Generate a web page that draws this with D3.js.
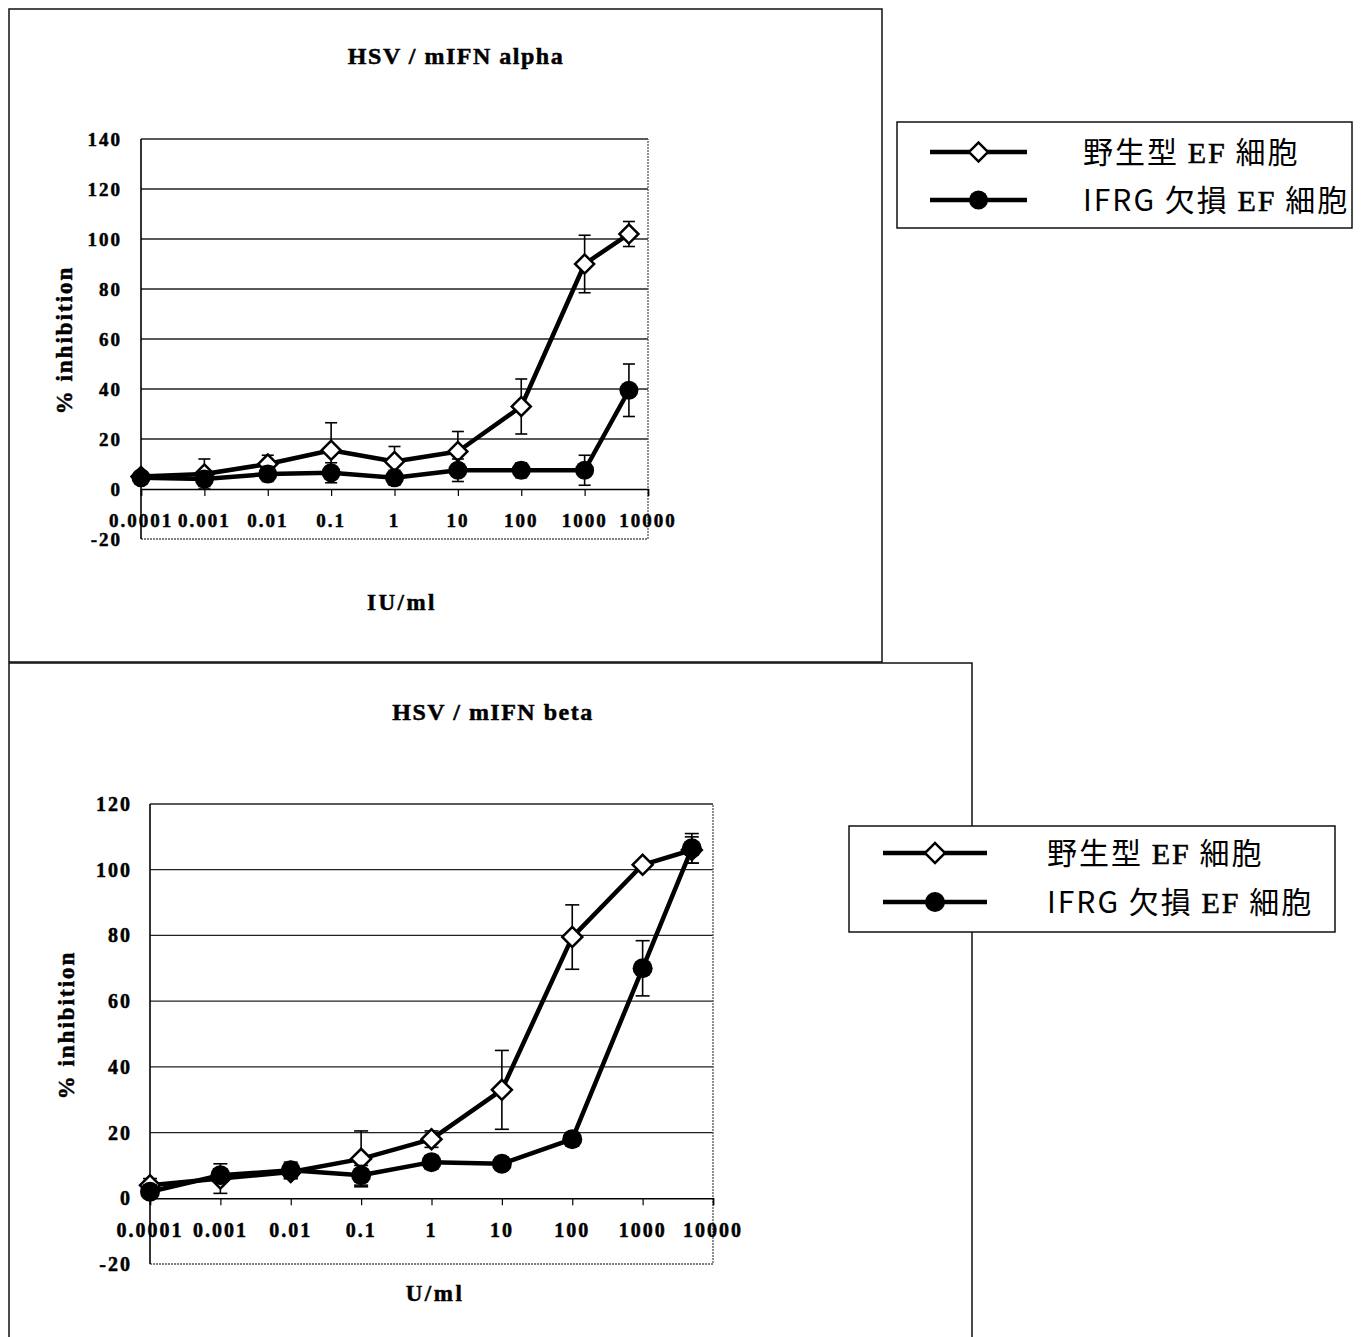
<!DOCTYPE html>
<html>
<head>
<meta charset="utf-8">
<script src="https://cdn.jsdelivr.net/npm/d3@7"></script>
<style>
  body { margin: 0; background: #fff; }
  svg text { font-family: "Liberation Serif", "Times New Roman", serif; font-weight: bold; fill: #000; stroke: #000; stroke-width: 0.5px; }
  svg text.legend { font-family: "Noto Sans CJK JP", sans-serif; font-weight: normal; stroke: none; }
  svg text.legend tspan.latin { font-family: "Liberation Serif", serif; font-weight: normal; stroke: #000; stroke-width: 0.6px; }
</style>
</head>
<body>
<svg id="chart"></svg>
<script>
// concentrations tested (same in both panels)
var concentrations = [0.0001, 0.001, 0.01, 0.1, 1, 10, 100, 1000, 5000]
var xTickValues = [0.0001, 0.001, 0.01, 0.1, 1, 10, 100, 1000, 10000]
var xTickLabels = ["0.0001", "0.001", "0.01", "0.1", "1", "10", "100", "1000", "10000"]

// HSV / mIFN alpha
var alphaWild = [5, 6, 10, 15.5, 11, 15, 33, 90, 102]
var alphaWildErr = [1, 6, 3.5, 11, 6, 8, 11, 11.5, 5]
var alphaKO = [4.5, 4, 6, 6.5, 4.5, 7.5, 7.5, 7.5, 39.5]
var alphaKOErr = [2, 3, 3, 4, 3, 4.5, 3, 6, 10.5]
var alphaYTicks = [-20, 0, 20, 40, 60, 80, 100, 120, 140]

// HSV / mIFN beta
var betaWild = [4, 6, 8, 12, 18, 33, 79.5, 101.5, 106]
var betaWildErr = [2, 4.5, 2, 8.5, 2.5, 12, 9.8, 1, 4]
var betaKO = [2, 7, 8.5, 7, 11, 10.5, 18, 70, 106.5]
var betaKOErr = [2, 2, 2.5, 3, 2, 2, 2, 8.4, 4.5]
var betaYTicks = [-20, 0, 20, 40, 60, 80, 100, 120]

// legend names, split so "EF" can be set in a latin face
var seriesNames = [
  [["野生型 ", false], ["EF", true], [" 細胞", false]],
  [["IFRG 欠損 ", false], ["EF", true], [" 細胞", false]]
]

var width = 1363
var height = 1337

var svg = d3.select("#chart").attr("width", width).attr("height", height)

function drawPanel(p) {
  var g = svg.append("g")

  // outer frame
  g.append("rect")
    .attr("x", p.frame[0]).attr("y", p.frame[1])
    .attr("width", p.frame[2]).attr("height", p.frame[3])
    .attr("fill", "none").attr("stroke", "#111").attr("stroke-width", 1.5)

  var x = d3.scaleLog().domain([0.0001, 10000]).range([p.left, p.right])
  var y = d3.scaleLinear().domain([p.yTicks[0], p.yTicks[p.yTicks.length - 1]]).range([p.bottom, p.top])

  // gridlines
  g.selectAll(".grid").data(p.yTicks.filter(t => t > p.yTicks[0] && t != 0)).enter()
    .append("line")
    .attr("x1", p.left).attr("x2", p.right)
    .attr("y1", d => y(d)).attr("y2", d => y(d))
    .attr("stroke", "#222").attr("stroke-width", 1.3)

  // plot area border (right + bottom)
  g.append("path")
    .attr("d", `M${p.left},${y(p.yTicks[0])}H${p.right}V${p.top}`)
    .attr("fill", "none").attr("stroke", "#555").attr("stroke-width", 1.3)
    .attr("stroke-dasharray", "2,1")

  // y axis line
  g.append("line")
    .attr("x1", p.left).attr("x2", p.left).attr("y1", p.top).attr("y2", p.bottom)
    .attr("stroke", "#000").attr("stroke-width", 1.6)

  // x axis at 0
  var xAxis = d3.axisBottom(x).tickValues(xTickValues).tickSize(7).tickFormat("")
  var ax = g.append("g").attr("transform", `translate(0,${y(0)})`).call(xAxis)
  ax.select(".domain").attr("stroke", "#000").attr("stroke-width", 1.6)
  ax.selectAll(".tick line").attr("stroke", "#000").attr("stroke-width", 1.2)

  g.selectAll(".xlab").data(xTickValues).enter().append("text")
    .attr("x", (d, i) => x(d))
    .attr("y", p.xLabelY)
    .attr("text-anchor", "middle")
    .attr("font-size", p.tickFont)
    .style("letter-spacing", "2px")
    .text((d, i) => xTickLabels[i])

  g.selectAll(".ylab").data(p.yTicks).enter().append("text")
    .attr("x", p.yLabelX)
    .attr("y", d => y(d) + 7)
    .attr("text-anchor", "end")
    .attr("font-size", p.tickFont)
    .style("letter-spacing", "2px")
    .text(d => d)

  // titles
  g.append("text").attr("x", p.titleX).attr("y", p.titleY)
    .attr("text-anchor", "middle").attr("font-size", 24)
    .style("letter-spacing", "1.5px").text(p.title)
  g.append("text").attr("x", p.xTitleX).attr("y", p.xTitleY)
    .attr("text-anchor", "middle").attr("font-size", 23)
    .style("letter-spacing", "2.5px").text(p.xTitle)
  g.append("text")
    .attr("transform", `translate(${p.yTitleX},${p.yTitleY}) rotate(-90)`)
    .attr("text-anchor", "middle").attr("font-size", 23)
    .style("letter-spacing", "2px").text("% inhibition")

  var line = d3.line().x((d, i) => x(concentrations[i])).y(d => y(d))

  var series = [
    {values: p.wild, err: p.wildErr, kind: "diamond"},
    {values: p.ko, err: p.koErr, kind: "circle"}
  ]

  series.forEach(s => {
    g.append("path").datum(s.values)
      .attr("d", line)
      .attr("fill", "none").attr("stroke", "#000").attr("stroke-width", 4.5)
      .attr("stroke-linejoin", "round")
  })

  series.forEach(s => {
    var eb = g.append("g")
    s.values.forEach((v, i) => {
      var cx = x(concentrations[i])
      var e = s.err[i]
      eb.append("line").attr("x1", cx).attr("x2", cx).attr("y1", y(v - e)).attr("y2", y(v + e))
        .attr("stroke", "#000").attr("stroke-width", 1.6)
      ;[v - e, v + e].forEach(t => {
        eb.append("line").attr("x1", cx - p.cap).attr("x2", cx + p.cap).attr("y1", y(t)).attr("y2", y(t))
          .attr("stroke", "#000").attr("stroke-width", 1.6)
      })
    })
    drawMarkers(g, s.kind, s.values.map((v, i) => [x(concentrations[i]), y(v)]), p.marker)
  })

  // legend
  var lg = svg.append("g")
  lg.append("rect")
    .attr("x", p.legend[0]).attr("y", p.legend[1]).attr("width", p.legend[2]).attr("height", p.legend[3])
    .attr("fill", "#fff").attr("stroke", "#111").attr("stroke-width", 1.5)
  ;["diamond", "circle"].forEach((kind, i) => {
    var ly = p.legendRows[i]
    lg.append("line").attr("x1", p.legendLine[0]).attr("x2", p.legendLine[1])
      .attr("y1", ly).attr("y2", ly).attr("stroke", "#000").attr("stroke-width", 4.5)
    drawMarkers(lg, kind, [[(p.legendLine[0] + p.legendLine[1]) / 2, ly]], p.marker)
    var t = lg.append("text").attr("class", "legend")
      .attr("x", p.legendTextX).attr("y", ly + 11)
      .attr("font-size", 30)
      .style("letter-spacing", "2px")
    seriesNames[i].forEach(part => {
      t.append("tspan").attr("class", part[1] ? "latin" : null).text(part[0])
    })
  })
}

function drawMarkers(g, kind, pts, size) {
  if (kind == "diamond") {
    g.selectAll(null).data(pts).enter().append("path")
      .attr("d", d3.symbol().type(d3.symbolSquare).size(size * size * 0.5))
      .attr("transform", d => `translate(${d[0]},${d[1]}) rotate(45)`)
      .attr("fill", "#fff").attr("stroke", "#000").attr("stroke-width", 2.5)
  } else {
    g.selectAll(null).data(pts).enter().append("circle")
      .attr("cx", d => d[0]).attr("cy", d => d[1]).attr("r", size / 2)
      .attr("fill", "#000")
  }
}

drawPanel({
  frame: [9, 9, 873, 653],
  left: 141, right: 648, top: 139, bottom: 539,
  yTicks: alphaYTicks,
  wild: alphaWild, wildErr: alphaWildErr, ko: alphaKO, koErr: alphaKOErr,
  tickFont: 19, xLabelY: 527, yLabelX: 122,
  title: "HSV / mIFN alpha", titleX: 456, titleY: 64,
  xTitle: "IU/ml", xTitleX: 402, xTitleY: 610,
  yTitleX: 72, yTitleY: 340,
  cap: 6, marker: 19,
  legend: [897, 122, 455, 106], legendRows: [152, 200], legendLine: [930, 1027], legendTextX: 1083
})

drawPanel({
  frame: [9, 663, 963, 700],
  left: 150, right: 713, top: 804, bottom: 1264,
  yTicks: betaYTicks,
  wild: betaWild, wildErr: betaWildErr, ko: betaKO, koErr: betaKOErr,
  tickFont: 20, xLabelY: 1237, yLabelX: 132,
  title: "HSV / mIFN beta", titleX: 493, titleY: 720,
  xTitle: "U/ml", xTitleX: 435, xTitleY: 1301,
  yTitleX: 74, yTitleY: 1025,
  cap: 7, marker: 20,
  legend: [849, 826, 486, 106], legendRows: [853, 902], legendLine: [883, 987], legendTextX: 1047
})
</script>
</body>
</html>
